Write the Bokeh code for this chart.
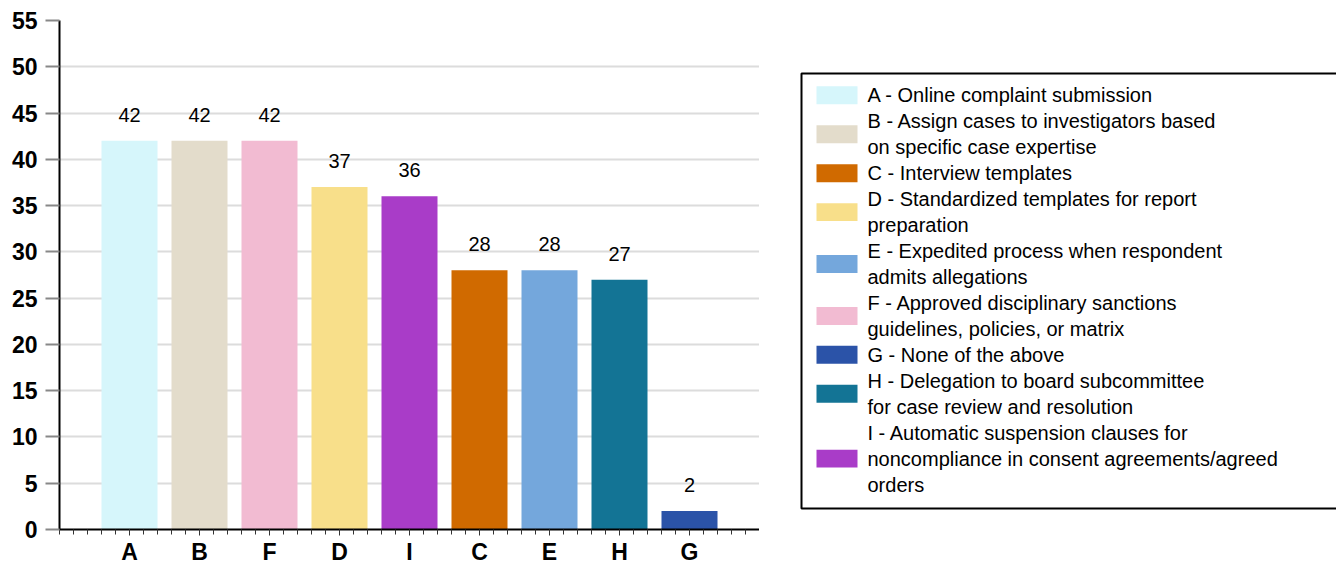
from bokeh.plotting import figure
from bokeh.models import ColumnDataSource, Range1d, FixedTicker
from bokeh.layouts import row
from bokeh.core.properties import value
from bokeh.embed import file_html
from bokeh.resources import INLINE

# ---- data ----
bar_letters = ["A", "B", "F", "D", "I", "C", "E", "H", "G"]
bar_values = [42, 42, 42, 37, 36, 28, 28, 27, 2]
bar_colors = ["#d6f6fb", "#e3dccb", "#f2bbd2", "#f8df8a", "#a93cc8",
              "#d06a00", "#74a7dc", "#137495", "#2b53a8"]
legend_letters = ["A", "B", "C", "D", "E", "F", "G", "H", "I"]
legend_labels = [
    "A - Online complaint submission",
    "B - Assign cases to investigators based\non specific case expertise",
    "C - Interview templates",
    "D - Standardized templates for report\npreparation",
    "E - Expedited process when respondent\nadmits allegations",
    "F - Approved disciplinary sanctions\nguidelines, policies, or matrix",
    "G - None of the above",
    "H - Delegation to board subcommittee\nfor case review and resolution",
    "I - Automatic suspension clauses for\nnoncompliance in consent agreements/agreed\norders",
]
y_ticks = [0, 5, 10, 15, 20, 25, 30, 35, 40, 45, 50, 55]

FONT = "Liberation Sans"

xs = list(range(1, len(bar_letters) + 1))
src = ColumnDataSource(dict(x=xs, top=bar_values, color=bar_colors,
                            label=[str(v) for v in bar_values]))

TOP, FH, LEFT, FW = 20, 509, 59, 700
p = figure(frame_width=FW, frame_height=FH, output_backend="svg", toolbar_location=None,
           x_range=Range1d(0, len(bar_letters) + 1), y_range=Range1d(0, 55),
           min_border_top=TOP, min_border_left=LEFT, min_border_bottom=37,
           min_border_right=0)
p.outline_line_color = None

bars = p.vbar(x="x", top="top", width=0.8, color="color", line_color=None, source=src)
p.text(x="x", y="top", text="label", source=src, text_align="center",
       text_baseline="middle", y_offset=-26, text_font=value(FONT),
       text_font_size="20px", text_color="black")

# axes
p.xaxis.ticker = FixedTicker(ticks=xs,
                             minor_ticks=[i * 0.2 for i in range(0, 5 * (len(bar_letters) + 1) + 1)])
p.xaxis.major_label_overrides = {x: l for x, l in zip(xs, bar_letters)}
p.xaxis.major_label_text_font = FONT
p.xaxis.major_label_text_font_style = "bold"
p.xaxis.major_label_text_font_size = "23px"
p.xaxis.major_label_text_color = "black"
p.xaxis.axis_line_width = 2
p.xaxis.axis_line_color = "black"
p.xaxis.major_tick_in = 0
p.xaxis.major_tick_out = 6
p.xaxis.minor_tick_in = 0
p.xaxis.minor_tick_out = 5
p.xaxis.major_tick_line_color = "#333333"
p.xaxis.minor_tick_line_color = "#333333"
p.xaxis.major_label_standoff = 3

p.yaxis.ticker = FixedTicker(ticks=y_ticks)
p.yaxis.major_label_text_font = FONT
p.yaxis.major_label_text_font_style = "bold"
p.yaxis.major_label_text_font_size = "23px"
p.yaxis.major_label_text_color = "black"
p.yaxis.axis_line_width = 2
p.yaxis.axis_line_color = "black"
p.yaxis.major_tick_in = 0
p.yaxis.major_tick_out = 14
p.yaxis.major_tick_line_color = "#888888"
p.yaxis.major_tick_line_width = 2
p.yaxis.minor_tick_line_color = None
p.yaxis.major_label_standoff = 8

p.xgrid.grid_line_color = None
p.ygrid.grid_line_color = "#dcdcdc"
p.ygrid.grid_line_width = 2

# ---- legend panel (page pixel coordinates, y downward; frame aligned with chart frame) ----
X0 = LEFT + FW
LW = 1336 - X0
lg = figure(width=LW, height=566, output_backend="svg", toolbar_location=None,
            x_range=Range1d(X0, X0 + LW), y_range=Range1d(TOP + FH, TOP),
            x_axis_type=None, y_axis_type=None, min_border=0)
lg.outline_line_color = None
lg.xgrid.grid_line_color = None
lg.ygrid.grid_line_color = None

lg.quad(left=[801], right=[1356], top=[73], bottom=[509],
        fill_color="white", line_color="black", line_width=2)

first_line = 95
pitch = 26
line_x, line_y, line_t = [], [], []
sw_y, sw_c = [], []
k = 0
for letter, lab in zip(legend_letters, legend_labels):
    ys = []
    for part in lab.split("\n"):
        yy = first_line + pitch * k
        line_x.append(867)
        line_y.append(yy)
        line_t.append(part)
        ys.append(yy)
        k += 1
    sw_y.append(sum(ys) / len(ys))
    sw_c.append(bar_colors[bar_letters.index(letter)])

lg.rect(x=[836.5] * len(sw_y), y=sw_y, width=41, height=18, fill_color=sw_c,
        line_color=None)
lg.text(x=line_x, y=line_y, text=line_t, text_align="left", text_baseline="middle",
        text_font=value(FONT), text_font_size="20px", text_color="black")

layout = row(p, lg)
open("out.html", "w").write(file_html(layout, INLINE))
